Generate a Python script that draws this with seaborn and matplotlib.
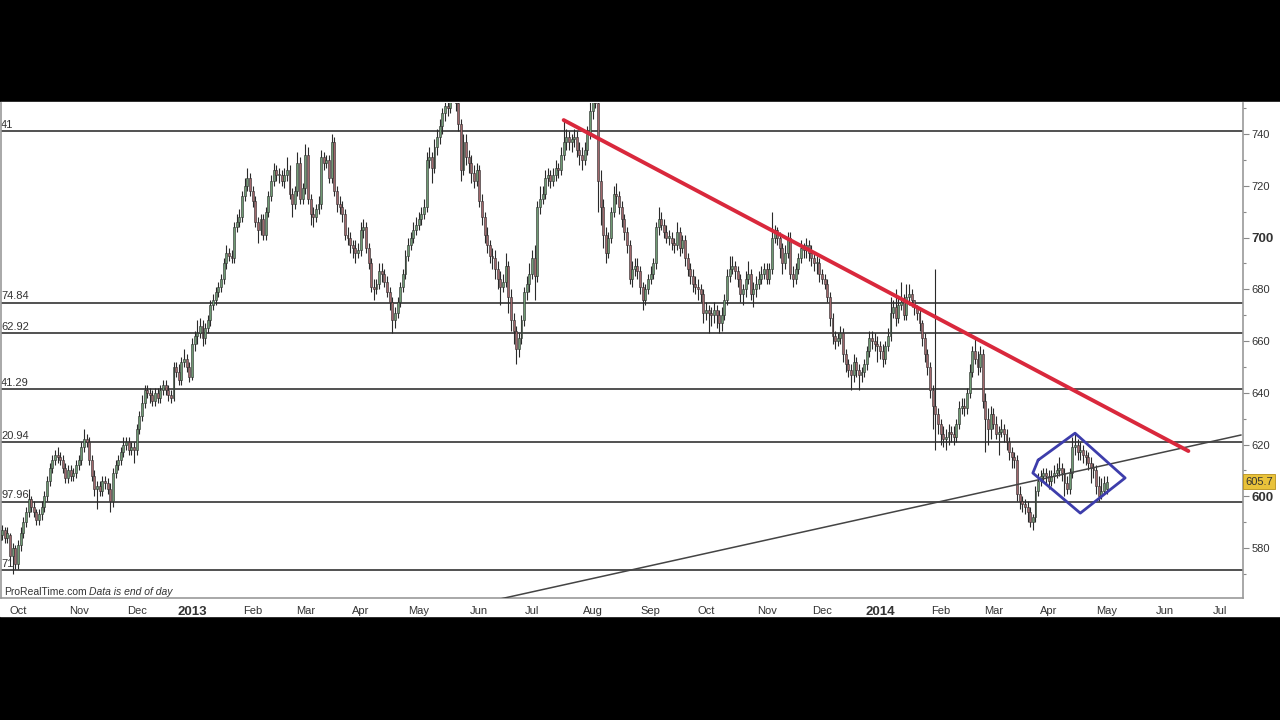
import numpy as np
import pandas as pd
import matplotlib
matplotlib.use("Agg")
import matplotlib.pyplot as plt
import matplotlib.transforms as mtransforms
from matplotlib.patches import Rectangle
import seaborn as sns

# daily candles from 20 Sep 2012 to 1 May 2014, one line per month
opens = [
    583, 585, 587, 584, 585, 577, 580,
    574, 581, 586, 590, 594, 599, 596, 594, 591, 593, 596, 600, 606, 611, 614, 616, 615, 614, 611, 607, 610, 608, 609,
    612, 614, 619, 622, 621, 614, 608, 603, 604, 602, 606, 605, 603, 598, 609, 612, 614, 617, 620, 621, 618, 619,
    618, 626, 631, 636, 641, 640, 639, 637, 640, 638, 641, 643, 641, 639, 638, 650, 648, 645, 652, 653, 650,
    646, 659, 662, 663, 666, 661, 665, 668, 674, 676, 679, 681, 684, 690, 694, 693, 692, 704, 706, 708, 716, 720, 723,
    718, 714, 706, 703, 707, 701, 710, 716, 722, 726, 724, 724, 722, 724, 726, 717, 713, 718, 729, 715,
    719, 732, 715, 709, 708, 711, 713, 731, 729, 730, 723, 737, 718, 713, 712, 709, 701, 700, 697, 696, 694,
    695, 703, 704, 696, 690, 681, 680, 682, 687, 686, 683, 679, 675, 668, 671, 675, 681, 686, 693, 697, 700, 703,
    705, 707, 709, 712, 730, 731, 727, 735, 739, 743, 748, 751, 750, 756, 758, 752, 744, 726, 737, 731, 729, 725, 722,
    726, 714, 708, 701, 697, 693, 692, 688, 684, 681, 683, 689, 677, 668, 664, 657, 661, 668, 679, 682,
    686, 692, 685, 712, 715, 717, 723, 724, 722, 724, 727, 726, 732, 737, 739, 737, 738, 739, 734, 732, 730, 734, 740,
    749, 756, 752, 722, 712, 701, 694, 700, 710, 717, 716, 712, 707, 702, 697, 684, 688, 689, 687, 681, 676, 680,
    684, 686, 690, 704, 707, 705, 702, 700, 700, 698, 697, 702, 696, 699, 692, 688, 685, 682, 681, 680, 678,
    671, 672, 671, 670, 672, 670, 667, 670, 676, 685, 688, 689, 687, 684, 678, 680, 684, 686, 678, 680, 682, 684, 686,
    688, 684, 688, 700, 703, 700, 696, 690, 694, 700, 686, 684, 688, 692, 696, 695, 697, 694, 692, 690, 690,
    686, 684, 682, 677, 669, 662, 660, 661, 663, 655, 651, 649, 647, 652, 649, 647, 648, 651, 656, 661, 660, 659,
    658, 656, 653, 658, 662, 671, 673, 669, 674, 675, 670, 677, 678, 676, 673, 671, 667, 661, 655, 650, 641, 635, 632,
    628, 624, 622, 623, 625, 624, 623, 628, 634, 635, 634, 640, 648, 656, 653, 650, 655, 637, 630, 626,
    632, 628, 624, 625, 626, 624, 621, 617, 615, 614, 601, 598, 597, 596, 594, 590, 592, 602, 606, 608, 609,
    608, 606, 608, 609, 610, 611, 609, 605, 603, 609, 619, 620, 617, 618, 616, 615, 613, 611, 610, 604, 600, 602,
    603,
]
highs = [
    587, 589, 588, 588, 586, 582, 581,
    583, 588, 592, 596, 603, 600, 598, 595, 595, 598, 602, 608, 613, 616, 618, 619, 617, 616, 613, 612, 612, 611, 614,
    616, 621, 626, 624, 623, 616, 610, 606, 606, 608, 608, 607, 605, 611, 614, 616, 619, 623, 623, 623, 621, 621,
    628, 633, 639, 643, 643, 642, 641, 642, 642, 643, 645, 645, 643, 641, 652, 652, 651, 654, 657, 655, 652,
    661, 664, 668, 669, 668, 667, 670, 676, 678, 681, 683, 686, 692, 697, 696, 695, 706, 709, 711, 718, 723, 727, 725,
    720, 716, 708, 709, 709, 712, 718, 724, 729, 728, 727, 726, 727, 731, 728, 719, 720, 733, 731, 721,
    736, 735, 717, 712, 713, 716, 734, 733, 732, 732, 740, 739, 720, 716, 714, 711, 704, 702, 699, 699, 698,
    706, 707, 706, 698, 692, 684, 684, 690, 690, 688, 685, 681, 677, 673, 677, 683, 688, 695, 700, 702, 706, 708,
    710, 712, 715, 733, 735, 733, 738, 742, 746, 750, 754, 755, 759, 761, 760, 755, 746, 740, 740, 734, 732, 728, 729,
    728, 717, 710, 704, 699, 696, 695, 691, 687, 686, 694, 691, 680, 671, 666, 663, 670, 681, 685, 690,
    695, 697, 714, 720, 720, 726, 727, 726, 727, 730, 729, 735, 745, 742, 741, 740, 742, 741, 737, 735, 737, 743, 753,
    760, 762, 754, 726, 715, 704, 702, 712, 720, 721, 718, 714, 709, 704, 699, 691, 692, 692, 689, 683, 682, 686,
    689, 692, 706, 712, 710, 707, 705, 703, 702, 700, 706, 704, 701, 701, 694, 690, 688, 685, 684, 682, 680,
    675, 674, 673, 675, 674, 672, 673, 678, 688, 693, 693, 691, 689, 686, 682, 687, 691, 688, 683, 685, 687, 689, 690,
    690, 690, 710, 705, 704, 702, 698, 697, 702, 702, 689, 690, 694, 699, 698, 700, 699, 697, 694, 693, 692,
    688, 686, 684, 679, 671, 664, 663, 666, 665, 657, 653, 651, 655, 654, 651, 650, 653, 658, 664, 664, 663, 662,
    660, 659, 660, 665, 677, 676, 680, 677, 683, 678, 682, 682, 680, 676, 674, 673, 668, 663, 657, 652, 643, 688, 634,
    630, 627, 626, 628, 627, 627, 630, 637, 638, 638, 642, 651, 658, 661, 656, 658, 657, 640, 634, 635,
    634, 631, 627, 630, 628, 626, 623, 619, 617, 616, 604, 600, 599, 598, 596, 593, 604, 609, 610, 611, 611,
    610, 610, 612, 613, 615, 613, 611, 608, 611, 623, 624, 622, 621, 620, 618, 617, 615, 613, 612, 608, 607, 608,
    608,
]
lows = [
    581, 583, 582, 582, 575, 570, 572,
    572, 579, 584, 588, 592, 594, 592, 589, 589, 591, 594, 598, 604, 609, 612, 613, 612, 609, 605, 605, 606, 606, 607,
    610, 612, 617, 619, 612, 606, 600, 595, 600, 600, 603, 601, 594, 596, 607, 610, 612, 615, 618, 616, 616, 613,
    616, 624, 629, 634, 638, 636, 635, 635, 636, 636, 639, 639, 637, 636, 637, 646, 643, 643, 650, 648, 644,
    645, 656, 659, 661, 658, 659, 663, 666, 672, 674, 677, 679, 682, 688, 691, 690, 690, 702, 704, 706, 714, 718, 716,
    712, 704, 698, 701, 699, 699, 708, 714, 720, 722, 721, 720, 719, 722, 715, 708, 711, 716, 713, 713,
    717, 713, 705, 704, 706, 709, 711, 726, 727, 721, 721, 716, 710, 709, 706, 699, 697, 694, 692, 690, 692,
    693, 700, 694, 688, 679, 676, 678, 680, 683, 681, 677, 672, 663, 665, 669, 673, 679, 684, 691, 695, 698, 701,
    703, 705, 707, 710, 727, 721, 725, 732, 736, 740, 745, 747, 748, 753, 749, 741, 722, 724, 728, 725, 721, 719, 720,
    712, 705, 698, 694, 690, 688, 684, 680, 674, 679, 681, 671, 664, 659, 651, 654, 659, 666, 676, 679,
    684, 676, 683, 709, 713, 715, 720, 719, 720, 722, 723, 724, 730, 734, 734, 733, 735, 731, 728, 726, 728, 732, 738,
    746, 750, 710, 705, 696, 690, 692, 698, 708, 713, 709, 704, 699, 694, 682, 681, 685, 684, 678, 672, 674, 678,
    682, 684, 688, 701, 703, 700, 698, 697, 695, 694, 695, 693, 694, 689, 685, 682, 679, 678, 676, 675, 667,
    668, 663, 666, 667, 665, 663, 664, 668, 674, 683, 686, 684, 681, 675, 674, 677, 682, 676, 673, 677, 680, 682, 684,
    682, 682, 686, 698, 697, 692, 686, 688, 692, 684, 681, 682, 686, 690, 692, 692, 691, 689, 687, 686, 683,
    682, 680, 675, 666, 659, 657, 658, 659, 652, 648, 646, 641, 644, 646, 641, 644, 646, 649, 654, 657, 656, 652,
    653, 650, 651, 656, 660, 669, 666, 667, 672, 668, 668, 674, 673, 670, 668, 664, 658, 652, 647, 638, 626, 618, 624,
    620, 619, 618, 620, 621, 620, 621, 626, 632, 631, 632, 638, 646, 651, 647, 648, 634, 617, 620, 622,
    626, 622, 616, 623, 621, 618, 614, 611, 611, 598, 595, 594, 593, 590, 588, 587, 590, 600, 604, 606, 605,
    603, 604, 605, 607, 608, 606, 600, 601, 601, 607, 616, 614, 614, 613, 612, 610, 605, 607, 601, 598, 599, 601,
    601,
]
closes = [
    585, 587, 584, 586, 577, 580, 574,
    581, 586, 590, 594, 599, 596, 594, 591, 593, 596, 600, 606, 611, 614, 616, 615, 614, 611, 607, 610, 608, 609, 612,
    614, 619, 622, 621, 614, 608, 603, 604, 602, 606, 605, 603, 598, 609, 612, 614, 617, 620, 621, 618, 619, 618,
    626, 631, 636, 641, 640, 639, 637, 640, 638, 641, 643, 641, 639, 638, 650, 648, 645, 652, 653, 650, 646,
    659, 662, 663, 666, 661, 665, 668, 674, 676, 679, 681, 684, 690, 694, 693, 692, 704, 706, 708, 716, 720, 723, 718,
    714, 706, 703, 707, 701, 710, 716, 722, 726, 724, 724, 722, 724, 726, 717, 713, 718, 729, 715, 719,
    732, 715, 709, 708, 711, 713, 731, 729, 730, 723, 737, 718, 713, 712, 709, 701, 700, 697, 696, 694, 695,
    703, 704, 696, 690, 681, 680, 682, 687, 686, 683, 679, 675, 668, 671, 675, 681, 686, 693, 697, 700, 703, 705,
    707, 709, 712, 730, 731, 727, 735, 739, 743, 748, 751, 750, 756, 758, 752, 744, 726, 737, 731, 729, 725, 722, 726,
    714, 708, 701, 697, 693, 692, 688, 684, 681, 683, 689, 677, 668, 664, 657, 661, 668, 679, 682, 686,
    692, 685, 712, 715, 717, 723, 724, 722, 724, 727, 726, 732, 737, 739, 737, 738, 739, 734, 732, 730, 734, 740, 749,
    756, 752, 722, 712, 701, 694, 700, 710, 717, 716, 712, 707, 702, 697, 684, 688, 689, 687, 681, 676, 680, 684,
    686, 690, 704, 707, 705, 702, 700, 700, 698, 697, 702, 696, 699, 692, 688, 685, 682, 681, 680, 678, 671,
    672, 671, 670, 672, 670, 667, 670, 676, 685, 688, 689, 687, 684, 678, 680, 684, 686, 678, 680, 682, 684, 686, 688,
    684, 688, 700, 703, 700, 696, 690, 694, 700, 686, 684, 688, 692, 696, 695, 697, 694, 692, 690, 690, 686,
    684, 682, 677, 669, 662, 660, 661, 663, 655, 651, 649, 647, 652, 649, 647, 648, 651, 656, 661, 660, 659, 658,
    656, 653, 658, 662, 671, 673, 669, 674, 675, 670, 677, 678, 676, 673, 671, 667, 661, 655, 650, 641, 635, 632, 628,
    624, 622, 623, 625, 624, 623, 628, 634, 635, 634, 640, 648, 656, 653, 650, 655, 637, 630, 626, 632,
    628, 624, 625, 626, 624, 621, 617, 615, 614, 601, 598, 597, 596, 594, 590, 592, 602, 606, 608, 609, 608,
    606, 608, 609, 610, 611, 609, 605, 603, 609, 619, 620, 617, 618, 616, 615, 613, 611, 610, 604, 600, 602, 605,
    605.7,
]

# horizontal levels drawn on the chart, labels as they show at the left edge
level_values = [741.2, 674.84, 662.92, 641.29, 620.94, 597.96, 571.5]
level_labels = ["41", "74.84", "62.92", "41.29", "20.94", "97.96", "71"]

# hand drawn trend lines and the diamond (dates, prices)
red_dates = ["2013-07-17", "2014-06-13"]
red_prices = [745.4, 617.5]
grey_dates = ["2013-06-11", "2014-07-11"]
grey_prices = [559.9, 623.7]
diamond_dates = ["2014-03-26", "2014-04-15", "2014-05-12", "2014-04-17", "2014-03-24", "2014-03-26"]
diamond_prices = [614.0, 624.4, 607.1, 593.5, 609.0, 614.0]

last_price = 605.7

sns.set_style("white")
plt.rcParams['font.family'] = ['Liberation Sans', 'DejaVu Sans']

# trading day positions, 0 = 1 Oct 2012
cal = pd.bdate_range("2012-09-20", "2014-07-31")
pos = pd.Series(np.arange(len(cal)) - 7, index=cal)
x = pos.values[:len(closes)]

fig = plt.figure(figsize=(12.8, 7.2), dpi=100, facecolor="black")
fig.patches.append(Rectangle((0, (720 - 616) / 720), 1, (616 - 102) / 720,
                             transform=fig.transFigure, color="white", zorder=-5))
ax = fig.add_axes([1 / 1280, (720 - 598) / 720, 1242 / 1280, 495 / 720])
ax.set_facecolor("white")

o = np.array(opens, dtype=float)
c = np.array(closes, dtype=float)
up = c >= o
ax.vlines(x, lows, highs, color="#2a2a2a", lw=0.8, zorder=3)
ax.bar(x, np.maximum(np.abs(c - o), 0.5), bottom=np.minimum(o, c), width=0.74,
       color=np.where(up, "#6f9a74", "#a0686c"), edgecolor="#2a2a2a", linewidth=0.4, zorder=4)

for v in level_values:
    ax.axhline(v, color="#222222", lw=1.1, zorder=2)

tr = mtransforms.blended_transform_factory(ax.transAxes, ax.transData)
for v, lab in zip(level_values, level_labels):
    ax.text(0.0, v + 0.5, lab, transform=tr, ha="left", va="bottom",
            fontsize=8, color="#333333", zorder=1)

sns.lineplot(x=[pos[pd.Timestamp(d)] for d in grey_dates], y=grey_prices, ax=ax,
             color="#444444", lw=1.1, zorder=5)
sns.lineplot(x=[pos[pd.Timestamp(d)] for d in red_dates], y=red_prices, ax=ax,
             color="#d9283c", lw=2.8, zorder=6)
ax.plot([pos[pd.Timestamp(d)] for d in diamond_dates], diamond_prices,
        color="#3d3dab", lw=2.0, zorder=6)

ax.set_xlim((1 - 18) / 2.636, (1243 - 18) / 2.636)
ax.set_ylim(560.7, 752.0)

# month ticks
month_starts = pd.date_range("2012-10-01", "2014-07-01", freq="MS")
tick_x = [pos[cal[cal >= m][0]] for m in month_starts]
ax.set_xticks(tick_x)
ax.set_xticklabels([str(m.year) if m.month == 1 else m.strftime("%b") for m in month_starts])
for m, t in zip(month_starts, ax.get_xticklabels()):
    if m.month == 1:
        t.set_fontweight("bold")
        t.set_fontsize(9.5)
    else:
        t.set_fontsize(8)
    t.set_color("#333333")
ax.tick_params(axis="x", direction="out", length=4, width=0.8, color="#888888", pad=2)

ax.yaxis.tick_right()
ax.set_yticks(np.arange(580, 741, 20))
ax.set_yticks(np.arange(570, 751, 10), minor=True)
ax.set_yticklabels([str(v) for v in range(580, 741, 20)])
for t in ax.get_yticklabels():
    t.set_color("#333333")
    if t.get_text() in ("600", "700"):
        t.set_fontweight("bold")
        t.set_fontsize(9.5)
    else:
        t.set_fontsize(8)
ax.tick_params(axis="y", which="major", direction="out", length=4, width=0.8, color="#888888", pad=2)
ax.tick_params(axis="y", which="minor", direction="out", length=2.5, width=0.8, color="#888888")

for s in ["left", "right", "bottom"]:
    ax.spines[s].set_visible(True)
    ax.spines[s].set_color("#999999")
    ax.spines[s].set_linewidth(1.2)
ax.spines["top"].set_visible(False)

ax.text(1.0 + 2 / 1242, last_price, "605.7", transform=tr, ha="left", va="center",
        fontsize=8, color="#333333", clip_on=False,
        bbox=dict(boxstyle="square,pad=0.2", facecolor="#e9c23a", edgecolor="#b8901a", lw=0.6))

ax.text(3 / 1242, 6 / 495, "ProRealTime.com", transform=ax.transAxes, ha="left", va="center",
        fontsize=7.5, color="#333333")
ax.text(88 / 1242, 6 / 495, "Data is end of day", transform=ax.transAxes, ha="left", va="center",
        fontsize=7.5, color="#333333", style="italic")

fig.savefig("out.png", dpi=100, facecolor=fig.get_facecolor())
